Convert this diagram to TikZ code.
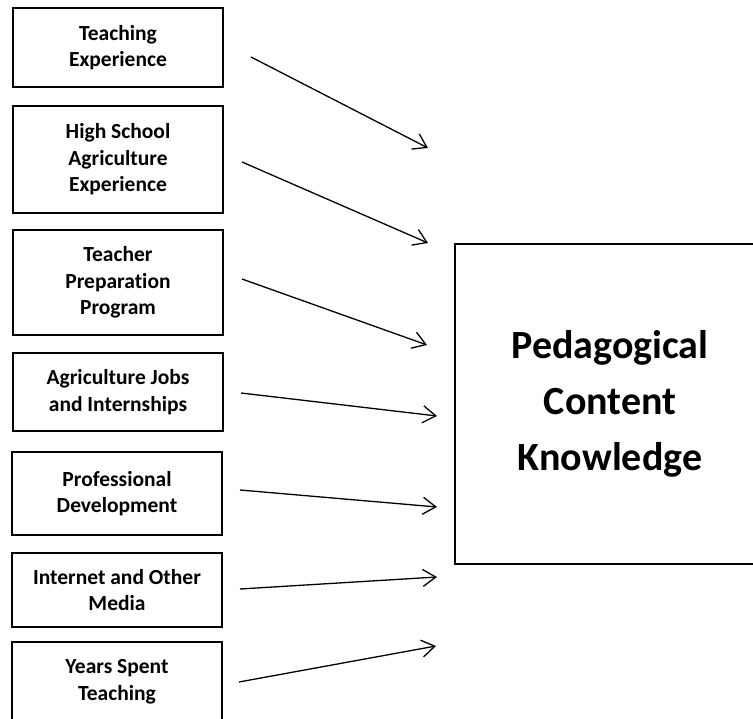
\documentclass[tikz,border=0pt]{standalone}
\usepackage{fontspec}
\setmainfont{Carlito}[Ligatures=NoCommon]
\usetikzlibrary{arrows.meta}
\begin{document}
\begin{tikzpicture}[x=1pt,y=-1pt,
  factor/.style={draw, line width=2.6pt, minimum width=210pt, align=center,
    font=\bfseries\fontsize{21.5}{26.5}\selectfont, inner sep=0pt},
  pck/.style={draw, line width=2.6pt, minimum width=310pt, minimum height=320pt, align=center,
    font=\bfseries\fontsize{40}{56}\selectfont},
  link/.style={line width=1.3pt, -{Straight Barb[length=13pt,width=17pt,line width=1.3pt]}}]
\useasboundingbox (0,0) rectangle (753,719);
\node[factor, minimum height=79pt] (f1) at (118,47.5) {Teaching\\Experience};
\node[factor, minimum height=107pt] (f2) at (118,159.5) {High School\\Agriculture\\Experience};
\node[factor, minimum height=105pt] (f3) at (118,282.5) {Teacher\\Preparation\\Program};
\node[factor, minimum height=78pt] (f4) at (118,392) {Agriculture Jobs\\and Internships};
\node[factor, minimum height=83pt] (f5) at (117,493.5) {Professional\\Development};
\node[factor, minimum height=74pt] (f6) at (117,590) {Internet and Other\\Media};
\node[factor, minimum height=80pt] (f7) at (117,682) {Years Spent\\Teaching};
\node[pck] (pck) at (610,404) {Pedagogical\\Content\\Knowledge};
\coordinate (s1) at (251,57);  \coordinate (e1) at (428,148);
\coordinate (s2) at (242,162); \coordinate (e2) at (428,243);
\coordinate (s3) at (242,279); \coordinate (e3) at (427,345);
\coordinate (s4) at (241,393); \coordinate (e4) at (437,416);
\coordinate (s5) at (240,490); \coordinate (e5) at (437,507);
\coordinate (s6) at (240,589); \coordinate (e6) at (437,577);
\coordinate (s7) at (239,682); \coordinate (e7) at (436,646);
\foreach \i in {1,...,7} { \draw[link] (s\i) -- (e\i); }
\end{tikzpicture}
\end{document}
